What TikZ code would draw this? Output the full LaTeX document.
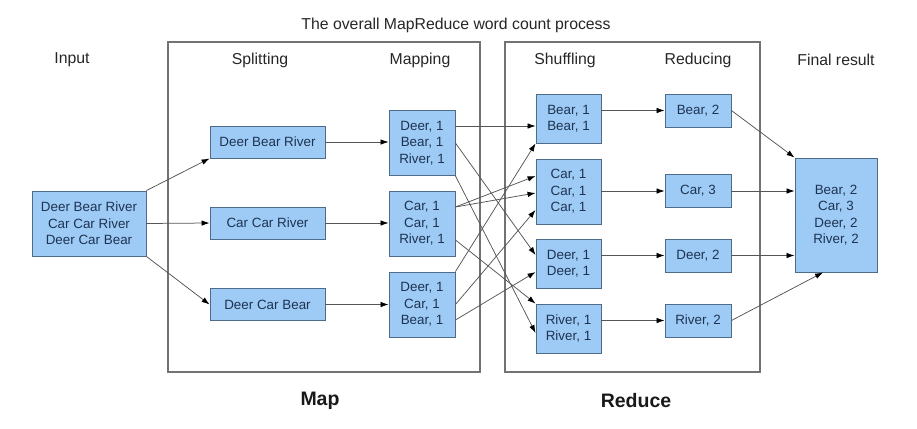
\documentclass[tikz,border=0pt]{standalone}
\usepackage{fontspec}
\setmainfont{Liberation Sans}
\usetikzlibrary{arrows.meta}

\definecolor{boxfill}{HTML}{9DCBF5}
\definecolor{boxline}{HTML}{4E6B8A}
\definecolor{boxtext}{HTML}{1E3352}
\definecolor{framegray}{HTML}{727272}
\definecolor{linegray}{HTML}{555555}

\tikzset{
  wbox/.style={draw=boxline, fill=boxfill, text=boxtext, line width=0.9pt,
    inner sep=0pt, align=center, font=\fontsize{13.4}{16.5}\selectfont},
  flow/.style={draw=linegray, line width=0.75pt,
    -{Latex[length=8pt,width=5.5pt,color=black]}},
  frame/.style={draw=framegray, line width=2.4pt},
  head/.style={font=\fontsize{15.8}{18}\selectfont, text=black!85},
  phase/.style={font=\bfseries\fontsize{19.5}{22}\selectfont, text=black!90}
}

\begin{document}
\begin{tikzpicture}[x=1pt,y=-1pt]
\useasboundingbox (0,0) rectangle (917,428);

\draw[frame] (168,42) rectangle (480,372);
\draw[frame] (505,42) rectangle (760,372);

\node[head] (title) at (456,25) {The overall MapReduce word count process};
\node[head] (hinput) at (72,60) {Input};
\node[head] (hsplit) at (260,60) {Splitting};
\node[head] (hmap) at (420,60) {Mapping};
\node[head] (hshuf) at (565,60) {Shuffling};
\node[head] (hred) at (698,60) {Reducing};
\node[head] (hfinal) at (836,60) {Final result};

\node[phase] (lmap) at (320,401) {Map};
\node[phase] (lreduce) at (636,401) {Reduce};

% input and splitting
\node[wbox, minimum width=114pt, minimum height=65pt] (in) at (89,223.5)
  {Deer Bear River\\Car Car River\\Deer Car Bear};
\node[wbox, minimum width=115pt, minimum height=32pt] (s1) at (267.5,142) {Deer Bear River};
\node[wbox, minimum width=115pt, minimum height=32pt] (s2) at (267.5,223) {Car Car River};
\node[wbox, minimum width=115pt, minimum height=32pt] (s3) at (267.5,304.5) {Deer Car Bear};

% mapping
\node[wbox, minimum width=66pt, minimum height=65pt] (m1) at (422,143) {Deer, 1\\Bear, 1\\River, 1};
\node[wbox, minimum width=66pt, minimum height=65pt] (m2) at (422,223.5) {Car, 1\\Car, 1\\River, 1};
\node[wbox, minimum width=66pt, minimum height=65pt] (m3) at (422,304.5) {Deer, 1\\Car, 1\\Bear, 1};

% shuffling
\node[wbox, minimum width=65pt, minimum height=49pt] (bear) at (568.5,118.5) {Bear, 1\\Bear, 1};
\node[wbox, minimum width=65pt, minimum height=65pt] (car) at (568.5,191.5) {Car, 1\\Car, 1\\Car, 1};
\node[wbox, minimum width=65pt, minimum height=49pt] (deer) at (568.5,263.5) {Deer, 1\\Deer, 1};
\node[wbox, minimum width=65pt, minimum height=49pt] (river) at (568.5,328.5) {River, 1\\River, 1};

% reducing
\node[wbox, minimum width=66pt, minimum height=33pt] (rbear) at (698,110.5) {Bear, 2};
\node[wbox, minimum width=66pt, minimum height=33pt] (rcar) at (698,191) {Car, 3};
\node[wbox, minimum width=66pt, minimum height=33pt] (rdeer) at (698,255.5) {Deer, 2};
\node[wbox, minimum width=66pt, minimum height=33pt] (rriver) at (698,320.5) {River, 2};

\node[wbox, minimum width=82pt, minimum height=114pt] (final) at (836,215)
  {Bear, 2\\Car, 3\\Deer, 2\\River, 2};

\draw[flow] (in.north east) -- (s1.south west);
\draw[flow] (in.east) -- (s2.west);
\draw[flow] (in.south east) -- (s3.west);

\draw[flow] (s1.east) -- (s1.east -| m1.west);
\draw[flow] (s2.east) -- (s2.east -| m2.west);
\draw[flow] (s3.east) -- (s3.east -| m3.west);

\draw[flow] ([yshift=17pt]m1.east) -- ([yshift=-7.5pt]bear.west);
\draw[flow] (m1.east) -- ([yshift=8.5pt]deer.west);
\draw[flow] (m1.south east) -- ([yshift=-4.5pt]river.west);
\draw[flow] ([yshift=16.5pt]m2.east) -- ([yshift=15.5pt]car.west);
\draw[flow] ([yshift=16.5pt]m2.east) -- ([yshift=-1.5pt]car.west);
\draw[flow] ([yshift=-16.5pt]m2.east) -- (river.north west);
\draw[flow] (m3.north east) -- (bear.south west);
\draw[flow] (m3.east) -- ([yshift=-18.5pt]car.west);
\draw[flow] ([yshift=-15.5pt]m3.east) -- ([yshift=-8.5pt]deer.west);

\draw[flow] (bear.east |- rbear.west) -- (rbear.west);
\draw[flow] (car.east |- rcar.west) -- (rcar.west);
\draw[flow] (deer.east |- rdeer.west) -- (rdeer.west);
\draw[flow] (river.east |- rriver.west) -- (rriver.west);

\draw[flow] (rbear.east) -- (final.north west);
\draw[flow] (rcar.east) -- (rcar.east -| final.west);
\draw[flow] (rdeer.east) -- (rdeer.east -| final.west);
\draw[flow] (rriver.east) -- ([xshift=-13pt]final.south);
\end{tikzpicture}
\end{document}
